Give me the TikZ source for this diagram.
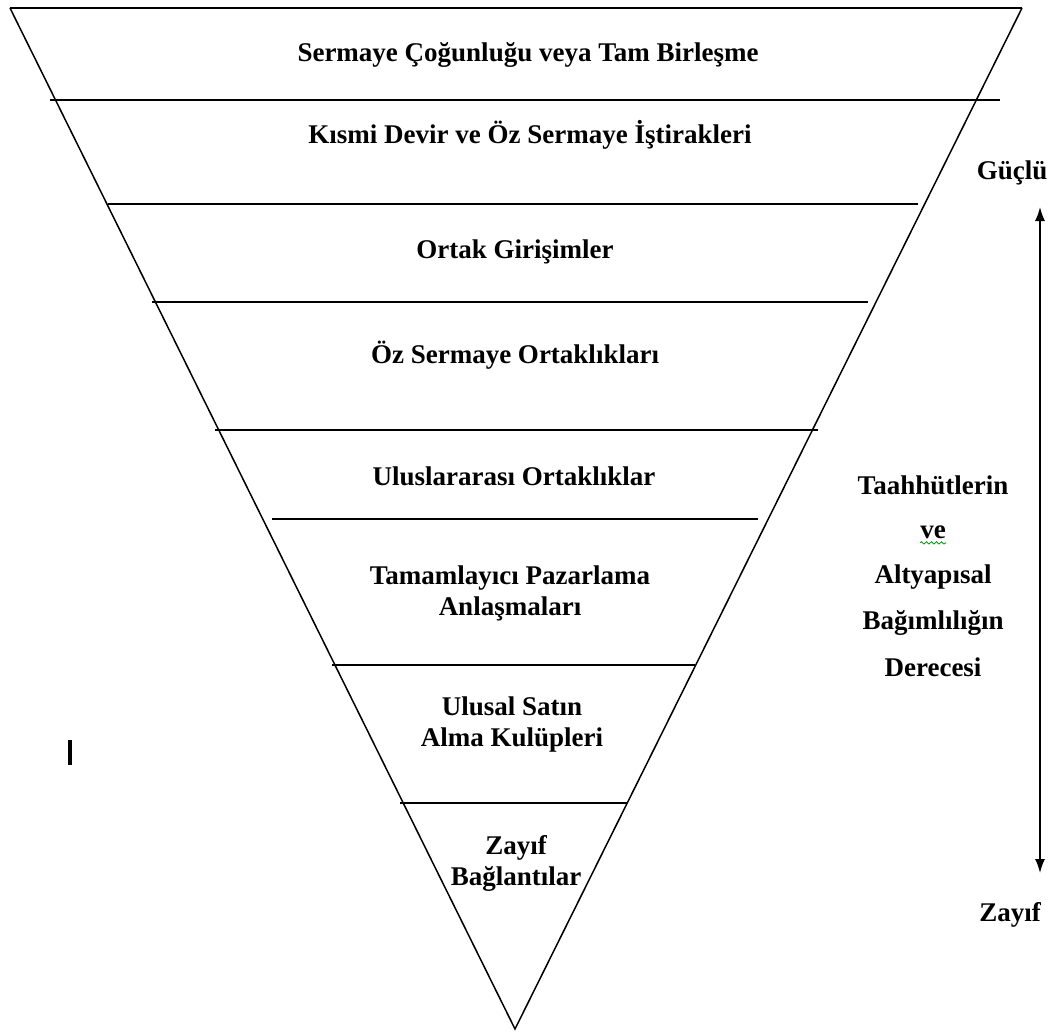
\documentclass[tikz,border=0pt]{standalone}
\usepackage{fontspec}
\setmainfont{Liberation Serif}
\usetikzlibrary{arrows.meta}
\usetikzlibrary{decorations.pathmorphing}
\tikzset{level/.style={font=\bfseries\fontsize{13.5}{15.5}\selectfont, align=center, inner sep=0pt},
 side/.style={font=\bfseries\fontsize{13.5}{15.5}\selectfont, inner sep=0pt},
 rung/.style={line width=0.75pt},
 }

\begin{document}
\begin{tikzpicture}[x=0.5pt,y=-0.5pt]
        \useasboundingbox (0,0) rectangle (1053,1033);
        \coordinate (tl) at (10,8);
        \coordinate (tr) at (1022,8);
        \coordinate (apex) at (515,1029);
        \draw[rung] (tl) -- (apex) -- (tr);
        \draw[line width=1.1pt] (tl) -- (tr);
        \foreach \y/\l/\r in {100/50/1000, 204/108/918, 302/152/868, 430/215/818,
            519/272/758, 665/332/695, 803/400/627}
            \draw[rung] (\l,\y) -- (\r,\y);
        \node[level] (l1) at (528,55) {Sermaye Çoğunluğu veya Tam Birleşme};
        \node[level] (l2) at (530,135) {Kısmi Devir ve Öz Sermaye İştirakleri};
        \node[level] (l3) at (515,252) {Ortak Girişimler};
        \node[level] (l4) at (515,355) {Öz Sermaye Ortaklıkları};
        \node[level] (l5) at (514,476) {Uluslararası Ortaklıklar};
        \node[level] (l6) at (510,593) {Tamamlayıcı Pazarlama\\Anlaşmaları};
        \node[level] (l7) at (512,724) {Ulusal Satın\\Alma Kulüpleri};
        \node[level] (l8) at (516,863) {Zayıf\\Bağlantılar};
        \node[side] (strong) at (1012,173) {Güçlü};
        \node[side] (weak) at (1010,915) {Zayıf};
        \coordinate (up) at (1040,207);
        \coordinate (down) at (1040,873);
        \draw[line width=0.8pt, {Latex[length=7pt,width=5pt]}-{Latex[length=7pt,width=5pt]}] (down) -- (up);
        \node[side] (d1) at (933,485) {Taahhütlerin};
        \node[side] (d2) at (933,532) {ve};
        \node[side] (d3) at (933,577) {Altyapısal};
        \node[side] (d4) at (933,623) {Bağımlılığın};
        \node[side] (d5) at (933,667) {Derecesi};
        \draw[green!60!black, line width=0.4pt, decorate,
            decoration={snake, amplitude=0.6pt, segment length=2.5pt}]
            ([yshift=-2pt]d2.south west) -- ([yshift=-2pt]d2.south east);
        \coordinate (bar1) at (70,740);
        \coordinate (bar2) at (70,765);
        \draw[line width=1.6pt] (bar1) -- (bar2);
    \end{tikzpicture}
\end{document}
